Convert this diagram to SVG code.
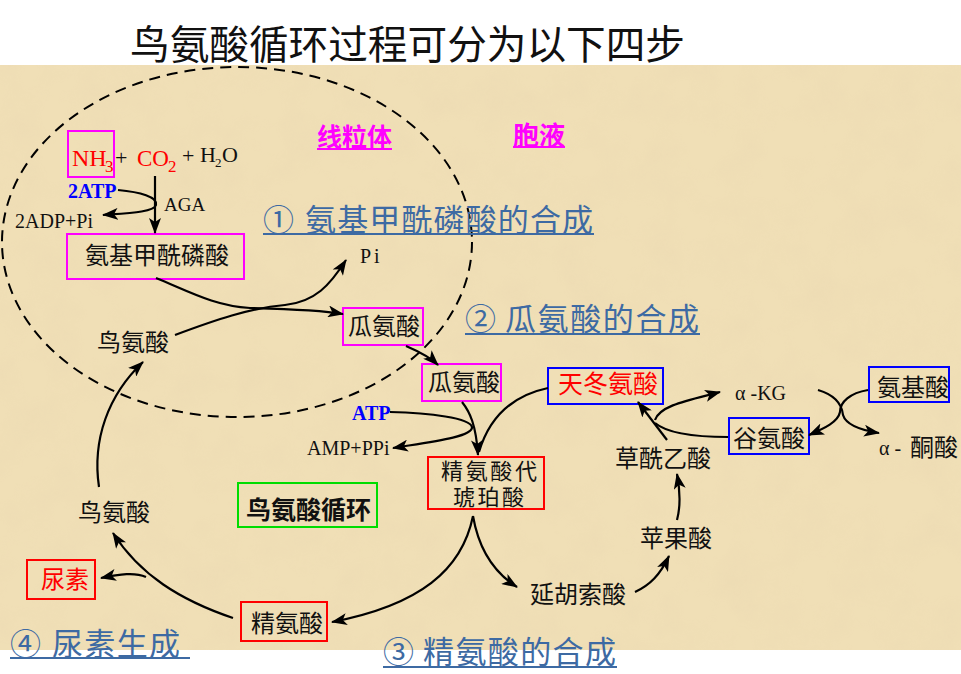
<svg xmlns="http://www.w3.org/2000/svg" width="961" height="674" viewBox="0 0 961 674">
<defs>
<style>
.cn{font-family:"Noto Sans CJK SC",sans-serif;font-size:24px;fill:#111}
.lat{font-family:"Liberation Serif","Times New Roman",serif;font-size:20px;fill:#111}
.step{font-family:"Noto Sans CJK SC",sans-serif;font-size:31px;fill:#3d6aa3}
.ul{stroke:#3d6aa3;stroke-width:2}
.mag{font-family:"Noto Sans CJK SC",sans-serif;font-size:25px;font-weight:bold;fill:#ff00ff}
.bm{fill:none;stroke:#ff00ff;stroke-width:2}
.bb{fill:none;stroke:#0000ff;stroke-width:2}
.br{fill:none;stroke:#ff0000;stroke-width:2}
.bg{fill:none;stroke:#00dd00;stroke-width:2}
.red{fill:#ff0000}
.blue{fill:#0000ff;font-weight:bold}
#connectors path{fill:none;stroke:#000;stroke-width:2.2}
#connectors .a{marker-end:url(#ah)}
</style>
<marker id="ah" viewBox="0 0 16 12" refX="15" refY="6" markerWidth="16" markerHeight="12" markerUnits="userSpaceOnUse" orient="auto">
<path d="M0,0 L16,6 L0,12 L4,6 z" fill="#000"/>
</marker>
<filter id="tex" x="0" y="0" width="100%" height="100%">
<feTurbulence type="fractalNoise" baseFrequency="0.025" numOctaves="4" seed="7"/>
<feColorMatrix type="matrix" values="0 0 0 0 0.82  0 0 0 0 0.68  0 0 0 0 0.44  0 0 0 1.6 -0.6"/>
</filter>
</defs>
<rect x="0" y="0" width="961" height="674" fill="#ffffff"/>
<rect x="0" y="65" width="961" height="585" fill="#f0dfb6"/>
<rect x="0" y="65" width="961" height="585" filter="url(#tex)" opacity="0.4"/>

<g id="title">
<text class="cn" x="130" y="59" style="font-size:40px" textLength="555" lengthAdjust="spacingAndGlyphs">鸟氨酸循环过程可分为以下四步</text>
</g>

<g id="mito-boundary">
<ellipse cx="237" cy="242" rx="235" ry="175" fill="none" stroke="#000" stroke-width="2" stroke-dasharray="11,7"/>
</g>

<g id="label-mito">
<text class="mag" x="317" y="146">线粒体</text>
<line x1="317" y1="149" x2="392" y2="149" stroke="#ff00ff" stroke-width="2"/>
</g>
<g id="label-cyto">
<text class="mag" x="513" y="145" style="font-size:26px">胞液</text>
<line x1="513" y1="147" x2="565" y2="147" stroke="#ff00ff" stroke-width="2"/>
</g>

<g id="reactants">
<rect class="bm" x="68" y="131" width="46" height="46"/>
<text class="lat red" x="72" y="166" style="font-size:24px">NH</text>
<text class="lat red" x="105" y="172" style="font-size:17px">3</text>
<text class="lat" x="115" y="165" style="font-size:22px">+</text>
<text class="lat red" x="137" y="166" style="font-size:23px">CO</text>
<text class="lat red" x="168" y="172" style="font-size:17px">2</text>
<text class="lat" x="182" y="163" style="font-size:22px">+</text>
<text class="lat" x="200" y="162" style="font-size:22px">H</text>
<text class="lat" x="215" y="167" style="font-size:13px">2</text>
<text class="lat" x="222" y="162" style="font-size:22px">O</text>
</g>
<g id="atp1"><text class="lat blue" x="68" y="198">2ATP</text></g>
<g id="adp"><text class="lat" x="15" y="228">2ADP+Pi</text></g>
<g id="aga"><text class="lat" x="164" y="211" style="font-size:19px">AGA</text></g>

<g id="carbamoyl-phosphate">
<rect class="bm" x="67" y="234" width="177" height="45"/>
<text class="cn" x="85" y="264">氨基甲酰磷酸</text>
</g>
<g id="step1">
<text class="step" x="263" y="231">①</text>
<text class="step" x="305" y="231" textLength="288" lengthAdjust="spacing">氨基甲酰磷酸的合成</text>
<line class="ul" x1="263" y1="234" x2="594" y2="234"/>
</g>
<g id="pi"><text class="lat" x="360" y="263" letter-spacing="3">Pi</text></g>

<g id="ornithine-mito"><text class="cn" x="97" y="351">鸟氨酸</text></g>

<g id="citrulline-mito">
<rect class="bm" x="343" y="308" width="80" height="37"/>
<text class="cn" x="348" y="335">瓜氨酸</text>
</g>
<g id="step2">
<text class="step" x="465" y="330">②</text>
<text class="step" x="505" y="330" textLength="194" lengthAdjust="spacing">瓜氨酸的合成</text>
<line class="ul" x1="465" y1="334" x2="700" y2="334"/>
</g>

<g id="citrulline-cyto">
<rect class="bm" x="422" y="364" width="79" height="37"/>
<text class="cn" x="428" y="391">瓜氨酸</text>
</g>
<g id="atp2"><text class="lat blue" x="352" y="420">ATP</text></g>
<g id="amp"><text class="lat" x="307" y="455">AMP+PPi</text></g>

<g id="aspartate">
<rect class="bb" x="548" y="368" width="115" height="36"/>
<text class="cn red" x="558" y="393" style="font-size:25px">天冬氨酸</text>
</g>

<g id="argininosuccinate">
<rect class="br" x="428" y="457" width="116" height="52"/>
<text class="cn" style="font-size:22px"><tspan x="441" y="479" textLength="96">精氨酸代</tspan><tspan x="453" y="505" textLength="71">琥珀酸</tspan></text>
</g>

<g id="cycle-label">
<rect class="bg" x="238" y="483" width="139" height="44"/>
<text class="cn" x="246" y="519" style="font-size:25px;font-weight:bold">鸟氨酸循环</text>
</g>

<g id="akg"><text class="lat" x="735" y="400">α -KG</text></g>
<g id="amino-acid">
<rect class="bb" x="869" y="367" width="80" height="35"/>
<text class="cn" x="877" y="396">氨基酸</text>
</g>
<g id="glutamate">
<rect class="bb" x="729" y="418" width="80" height="36"/>
<text class="cn" x="733" y="447">谷氨酸</text>
</g>
<g id="keto-acid">
<text class="lat" x="879" y="455">α -</text>
<text class="cn" x="910" y="456">酮酸</text>
</g>
<g id="oxaloacetate"><text class="cn" x="615" y="467">草酰乙酸</text></g>
<g id="malate"><text class="cn" x="640" y="547">苹果酸</text></g>
<g id="fumarate"><text class="cn" x="530" y="603">延胡索酸</text></g>

<g id="ornithine-cyto"><text class="cn" x="78" y="521">鸟氨酸</text></g>
<g id="urea">
<rect class="br" x="27" y="560" width="68" height="39"/>
<text class="cn red" x="41" y="588">尿素</text>
</g>
<g id="arginine">
<rect class="br" x="241" y="602" width="86" height="39"/>
<text class="cn" x="251" y="632">精氨酸</text>
</g>

<g id="step4">
<text class="step" x="10" y="655">④</text>
<text class="step" x="52" y="655" textLength="128" lengthAdjust="spacing">尿素生成</text>
<line class="ul" x1="10" y1="658" x2="190" y2="658"/>
</g>
<g id="step3">
<text class="step" x="383" y="663">③</text>
<text class="step" x="423" y="663" textLength="193" lengthAdjust="spacing">精氨酸的合成</text>
<line class="ul" x1="383" y1="667" x2="617" y2="667"/>
</g>

<g id="connectors">
<path class="a" d="M155,176 L155,233"/>
<path class="a" d="M118,190 C140,192 158,197 156,205 C154,212 130,213 103,215"/>
<path class="a" d="M156,278 C190,292 215,306 250,308 C290,309 320,310 343,314"/>
<path class="a" d="M175,335 C215,320 250,308 285,305 C315,302 330,285 346,260"/>
<path class="a" d="M406,346 C420,352 430,357 438,365"/>
<path class="a" d="M390,412 C430,413 470,418 472,427 C473,437 430,442 393,448"/>
<path class="a" d="M462,402 C470,412 476,425 478,455"/>
<path d="M548,388 C515,395 490,415 479,452"/>
<path class="a" d="M667,440 L638,402"/>
<path d="M728,437 C700,437 668,434 655,423"/>
<path class="a" d="M655,420 C660,405 690,400 720,392"/>
<path class="a" d="M868,390 C850,393 840,402 840,412 C838,422 825,428 809,435"/>
<path class="a" d="M818,390 C835,395 842,405 843,415 C846,425 860,430 879,433"/>
<path class="a" d="M677,520 C681,505 680,490 677,474"/>
<path class="a" d="M473,516 C478,545 490,570 517,587"/>
<path class="a" d="M473,516 C462,570 420,605 332,622"/>
<path class="a" d="M635,592 C650,585 660,575 669,556"/>
<path class="a" d="M233,618 C180,600 140,575 113,533"/>
<path class="a" d="M146,577 C135,572 120,574 101,578"/>
<path class="a" d="M99,487 C92,440 108,395 143,362"/>
</g>
</svg>
